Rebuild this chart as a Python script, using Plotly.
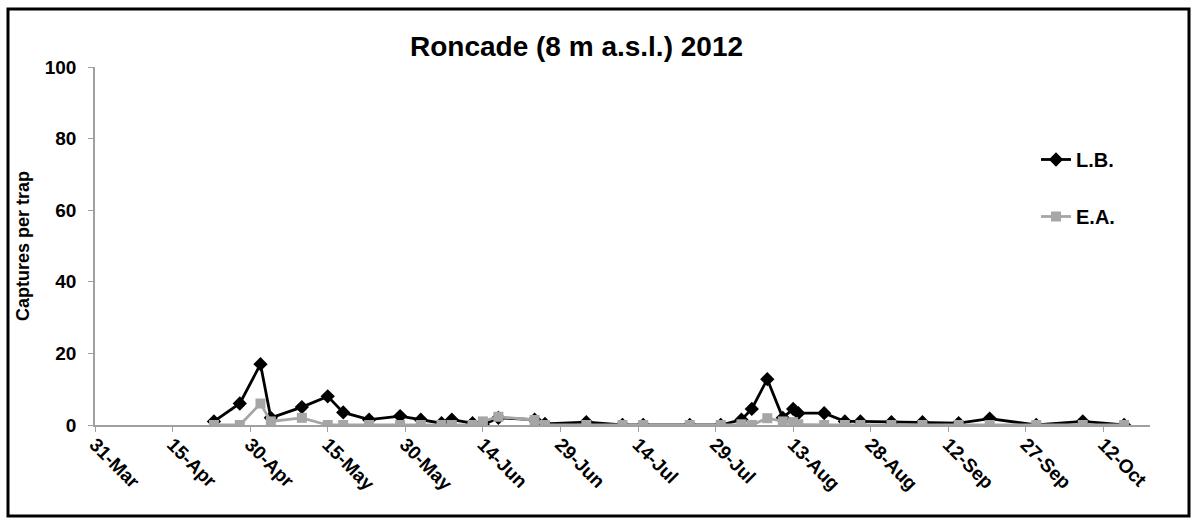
import plotly.graph_objects as go

# Sampling dates (2012) and captures per trap for both species
dates = [
    "2012-04-23", "2012-04-28", "2012-05-02", "2012-05-04", "2012-05-10",
    "2012-05-15", "2012-05-18", "2012-05-23", "2012-05-29", "2012-06-02",
    "2012-06-06", "2012-06-08", "2012-06-12", "2012-06-14", "2012-06-17",
    "2012-06-24", "2012-06-26", "2012-07-04", "2012-07-11", "2012-07-15",
    "2012-07-24", "2012-07-30", "2012-08-03", "2012-08-05", "2012-08-08",
    "2012-08-11", "2012-08-13", "2012-08-14", "2012-08-19", "2012-08-23",
    "2012-08-26", "2012-09-01", "2012-09-07", "2012-09-14", "2012-09-20",
    "2012-09-29", "2012-10-08", "2012-10-16",
]
lb_values = [
    1, 6, 17, 2, 5,
    8, 3.5, 1.5, 2.5, 1.5,
    0.5, 1.5, 0.5, 0, 2,
    1.5, 0.3, 0.8, 0, 0,
    0, 0, 1.5, 4.5, 12.8,
    2, 4.5, 3.3, 3.3, 1,
    1, 0.8, 0.8, 0.5, 1.8,
    0, 1, 0,
]
ea_values = [
    0, 0, 6, 1, 2,
    0, 0, 0, 0, 0,
    0, 0, 0, 1, 2.3,
    1.4, 0, 0, 0, 0,
    0, 0, 0.2, 0, 1.9,
    1, 0.8, 0.2, 0, 0,
    0, 0, 0, 0, 0,
    0, 0, 0,
]
series_names = ["L.B.", "E.A."]
title_text = "Roncade (8 m a.s.l.) 2012"
y_title = "Captures per trap"

FONT = "Arial, Liberation Sans, sans-serif"
W, H = 1196, 521
L, R, T, B = 95, 46, 67, 96
pw, ph = W - L - R, H - T - B


def px_x(p):
    return (p - L) / pw


def px_y(p):
    return (H - B - p) / ph


fig = go.Figure()
fig.add_trace(go.Scatter(
    x=dates, y=lb_values, name="<b>" + series_names[0] + "</b>", mode="lines+markers",
    line=dict(color="#000000", width=2.8),
    marker=dict(symbol="diamond", size=11, color="#000000"),
    legendgroup="a",
))
fig.add_trace(go.Scatter(
    x=dates, y=ea_values, name="<b>" + series_names[1] + "</b>", mode="lines+markers",
    line=dict(color="#a6a6a6", width=2.8),
    marker=dict(symbol="square", size=10, color="#a6a6a6"),
    legendgroup="b",
))

fig.update_layout(
    width=W, height=H,
    margin=dict(l=L, r=R, t=T, b=B),
    paper_bgcolor="white", plot_bgcolor="white",
    font=dict(family=FONT, color="black"),
    showlegend=True,
    legend=dict(
        x=px_x(1036), y=px_y(140), xanchor="left", yanchor="top",
        font=dict(size=20, family=FONT, color="black"),
        tracegroupgap=28, bgcolor="rgba(0,0,0,0)",
        itemwidth=30,
    ),
    xaxis=dict(
        type="date",
        range=["2012-03-31", "2012-10-21"],
        tick0="2012-03-31", dtick=15 * 86400000,
        tickformat="%d-%b", tickangle=45,
        tickfont=dict(size=19, family=FONT, color="black"),
        tickprefix="<b>", ticksuffix="</b>",
        ticklabelstandoff=-6,
        showline=True, linecolor="#a0a0a0", linewidth=2,
        ticks="outside", ticklen=5, tickcolor="#a0a0a0",
        showgrid=False, zeroline=False,
    ),
    yaxis=dict(
        range=[0, 100], dtick=20,
        tickfont=dict(size=19, family=FONT, color="black"),
        tickprefix="<b>", ticksuffix="</b>",
        ticklabelstandoff=8,
        showline=True, linecolor="#a0a0a0", linewidth=1.5,
        ticks="outside", ticklen=5, tickcolor="#a0a0a0",
        showgrid=False, zeroline=False,
        title=dict(text="<b>" + y_title + "</b>", font=dict(size=18, family=FONT), standoff=10),
    ),
    annotations=[dict(
        text="<b>" + title_text + "</b>", x=px_x(576), y=px_y(47),
        xref="paper", yref="paper", showarrow=False,
        font=dict(size=28, family=FONT, color="black"),
        xanchor="center", yanchor="middle",
    )],
    shapes=[dict(
        type="rect", xref="paper", yref="paper",
        x0=px_x(8), x1=px_x(1189), y0=px_y(516), y1=px_y(9),
        line=dict(color="black", width=3),
    )],
)

fig.write_html("out.html")
